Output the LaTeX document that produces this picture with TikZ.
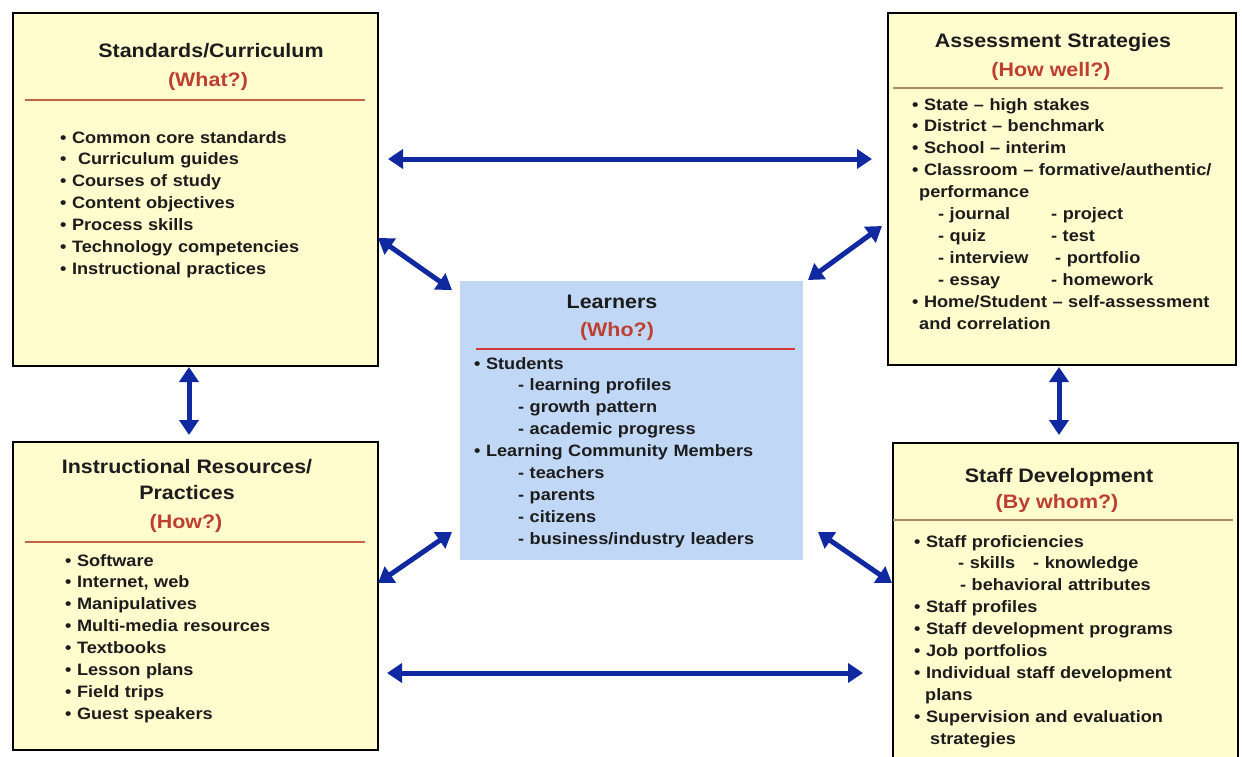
\documentclass[tikz,border=0pt]{standalone}
\usepackage{fontspec}
\setmainfont{Liberation Sans}[FakeStretch=1.1, BoldFeatures={FakeStretch=1.1}]
\usetikzlibrary{arrows.meta,calc}
\definecolor{boxfill}{RGB}{255,252,206}
\definecolor{lrnfill}{RGB}{193,215,246}
\definecolor{arrblue}{RGB}{16,40,160}
\definecolor{whatred}{RGB}{190,62,48}
\definecolor{lineorange}{RGB}{200,100,70}
\definecolor{linetan}{RGB}{176,138,96}
\definecolor{linered}{RGB}{215,56,58}
\definecolor{txt}{RGB}{28,28,28}
\newcommand\twocol[4]{\hspace*{#1}\makebox[#2][l]{#3}#4}
\tikzset{
  box/.style={draw=black, line width=2.4pt, fill=boxfill, anchor=north west, inner sep=0, outer sep=0},
  lrnbox/.style={fill=lrnfill, anchor=north west, inner sep=0, outer sep=0},
  ttl/.style={anchor=base, inner sep=0, text=txt, font=\bfseries\fontsize{19.5}{24}\selectfont},
  sub/.style={anchor=base, inner sep=0, text=whatred, font=\bfseries\fontsize{19.5}{24}\selectfont},
  body/.style={anchor=base west, inner sep=0, text=txt, align=left, text width=330pt, font=\bfseries\fontsize{16.5}{21.9}\selectfont},
  arr/.style={line width=5pt, draw=arrblue, {Triangle[length=15pt,width=19pt]}-{Triangle[length=15pt,width=19pt]}},
  sep/.style={line width=1.8pt}
}
\begin{document}
\begin{tikzpicture}[x=1pt,y=-1pt]
\useasboundingbox (0,0) rectangle (1242,756);
\clip (0,0) rectangle (1242,756);
\fill[white] (0,0) rectangle (1242,756);

% boxes
\node[box, minimum width=365, minimum height=353] (std) at (13,13) {};
\node[box, minimum width=348, minimum height=352] (ass) at (888,13) {};
\node[lrnbox, minimum width=343, minimum height=279] (lrn) at (460,281) {};
\node[box, minimum width=365, minimum height=308] (ins) at (13,442) {};
\node[box, minimum width=345, minimum height=335] (stf) at (893,443) {};

% separator lines
\draw[sep, lineorange] ($(std.north west)+(12,87)$) -- ($(std.north east)+(-13,87)$);
\draw[sep, linetan] ($(ass.north west)+(5,75)$) -- ($(ass.north east)+(-13,75)$);
\draw[sep, linered] ($(lrn.north west)+(16,68)$) -- ($(lrn.north east)+(-8,68)$);
\draw[sep, lineorange] ($(ins.north west)+(12,100)$) -- ($(ins.north east)+(-13,100)$);
\draw[sep, linetan] ($(stf.north west)+(0,77)$) -- ($(stf.north east)+(-5,77)$);

% Standards/Curriculum
\node[ttl] (stdT) at (211,57) {Standards/Curriculum};
\node[sub] (stdS) at (208,86) {(What?)};
\node[body] (stdB) at (60,143) {\textbullet{} Common core standards\\
\textbullet{} \hspace{6pt}Curriculum guides\\
\textbullet{} Courses of study\\
\textbullet{} Content objectives\\
\textbullet{} Process skills\\
\textbullet{} Technology competencies\\
\textbullet{} Instructional practices};

% Assessment Strategies
\node[ttl] (assT) at (1053,47) {Assessment Strategies};
\node[sub] (assS) at (1051,76) {(How well?)};
\node[body] (assB) at (912,110) {\textbullet{} State -- high stakes\\
\textbullet{} District -- benchmark\\
\textbullet{} School -- interim\\
\textbullet{} Classroom -- formative/authentic/\\
\hspace*{7pt}performance\\
\twocol{26pt}{113pt}{- journal}{- project}\\
\twocol{26pt}{113pt}{- quiz}{- test}\\
\twocol{26pt}{117pt}{- interview}{- portfolio}\\
\twocol{26pt}{113pt}{- essay}{- homework}\\
\textbullet{} Home/Student -- self-assessment\\
\hspace*{7pt}and correlation};

% Learners
\node[ttl] (lrnT) at (612,308) {Learners};
\node[sub] (lrnS) at (617,336) {(Who?)};
\node[body] (lrnB) at (474,369) {\textbullet{} Students\\
\hspace*{44pt}- learning profiles\\
\hspace*{44pt}- growth pattern\\
\hspace*{44pt}- academic progress\\
\textbullet{} Learning Community Members\\
\hspace*{44pt}- teachers\\
\hspace*{44pt}- parents\\
\hspace*{44pt}- citizens\\
\hspace*{44pt}- business/industry leaders};

% Instructional Resources
\node[ttl] (insT1) at (187,473) {Instructional Resources/};
\node[ttl] (insT2) at (187,499) {Practices};
\node[sub] (insS) at (186,528) {(How?)};
\node[body] (insB) at (65,566) {\textbullet{} Software\\
\textbullet{} Internet, web\\
\textbullet{} Manipulatives\\
\textbullet{} Multi-media resources\\
\textbullet{} Textbooks\\
\textbullet{} Lesson plans\\
\textbullet{} Field trips\\
\textbullet{} Guest speakers};

% Staff Development
\node[ttl] (stfT) at (1059,482) {Staff Development};
\node[sub] (stfS) at (1057,508) {(By whom?)};
\node[body] (stfB) at (914,547) {\textbullet{} Staff proficiencies\\
\twocol{44pt}{75pt}{- skills}{- knowledge}\\
\hspace*{46pt}- behavioral attributes\\
\textbullet{} Staff profiles\\
\textbullet{} Staff development programs\\
\textbullet{} Job portfolios\\
\textbullet{} Individual staff development\\
\hspace*{11pt}plans\\
\textbullet{} Supervision and evaluation\\
\hspace*{16pt}strategies};

% arrows
\draw[arr] ($(std.north east)+(10,146)$) -- ($(ass.north west)+(-16,146)$);
\draw[arr] ($(std.north east)+(0,225)$) -- ($(lrn.north west)+(-8,9)$);
\draw[arr] ($(lrn.north east)+(5,-1)$) -- ($(ass.north west)+(-6,213)$);
\draw[arr] ($(std.south)+(-6.5,1)$) -- ($(ins.north)+(-6.5,-7)$);
\draw[arr] ($(ass.south)+(-3,2)$) -- ($(stf.north)+(-6.5,-8)$);
\draw[arr] ($(ins.north east)+(0,141)$) -- ($(lrn.south west)+(-8,-28)$);
\draw[arr] ($(lrn.south east)+(15,-28)$) -- ($(stf.north west)+(-1,140)$);
\draw[arr] ($(ins.north east)+(9,231)$) -- ($(stf.north west)+(-30,230)$);
\end{tikzpicture}
\end{document}
